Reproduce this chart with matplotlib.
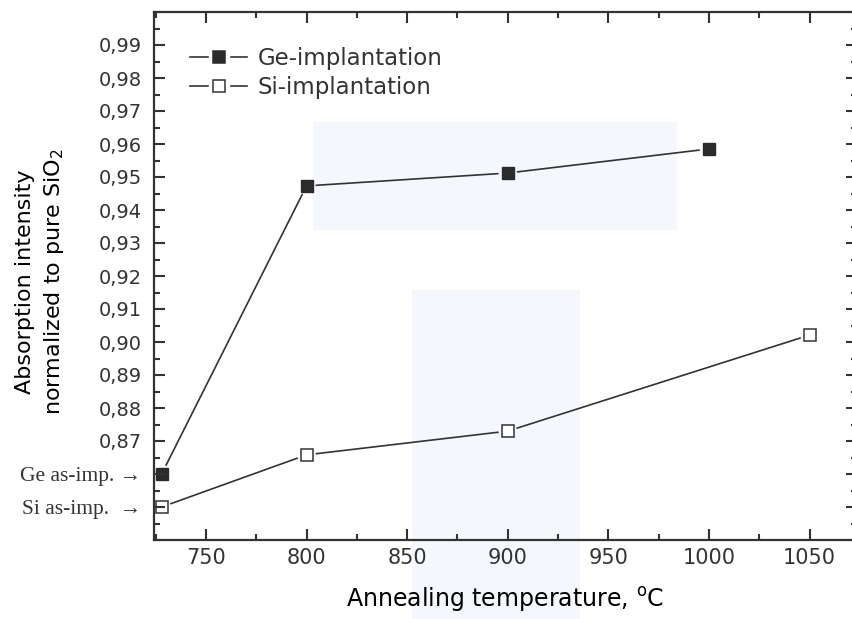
import numpy as np
import matplotlib
matplotlib.use('Agg')
import matplotlib.pyplot as plt
from matplotlib.lines import Line2D
from matplotlib.patches import Rectangle
from matplotlib.legend_handler import HandlerTuple
from matplotlib.ticker import MultipleLocator

# absorption intensity vs annealing temperature (first point = as-implanted)
ge_temp = [728, 800, 900, 1000]
ge_abs = [0.860, 0.9473, 0.9512, 0.9585]
si_temp = [728, 800, 900, 1050]
si_abs = [0.850, 0.8658, 0.873, 0.9021]

x_ticks = [750, 800, 850, 900, 950, 1000, 1050]
y_ticks = [0.85, 0.86, 0.87, 0.88, 0.89, 0.90, 0.91, 0.92, 0.93, 0.94,
           0.95, 0.96, 0.97, 0.98, 0.99]
y_labels = ['Si as-imp.  \u2192', 'Ge as-imp. \u2192', '0,87', '0,88', '0,89',
            '0,90', '0,91', '0,92', '0,93', '0,94', '0,95', '0,96', '0,97',
            '0,98', '0,99']

ink = '#333333'
plt.rcParams['font.family'] = 'DejaVu Sans'
plt.rcParams['text.color'] = ink

W, H = 852, 619
fig = plt.figure(figsize=(W / 100, H / 100), dpi=100)

# faint blue patches in the background
for (x0, y0, x1, y1) in [(313, 122, 677, 230), (412, 290, 580, 619)]:
    fig.patches.append(Rectangle((x0 / W, 1 - y1 / H), (x1 - x0) / W, (y1 - y0) / H,
                                 transform=fig.transFigure, color='#f4f7fc',
                                 zorder=-5, lw=0))

ax = fig.add_axes([154 / W, 1 - 540 / H, (857 - 154) / W, (540 - 12) / H])
ax.set_facecolor('none')
ax.set_xlim(724.2, 1073.6)
ax.set_ylim(0.84, 1.0)


def gapped_line(ax, xs, ys, gap=10, **kw):
    # connect the points but stop short of each symbol
    pts = ax.transData.transform(np.column_stack([xs, ys]))
    inv = ax.transData.inverted()
    for p0, p1 in zip(pts[:-1], pts[1:]):
        u = (p1 - p0) / np.hypot(*(p1 - p0))
        a = inv.transform(p0 + u * gap)
        b = inv.transform(p1 - u * gap)
        ax.plot([a[0], b[0]], [a[1], b[1]], **kw)


gapped_line(ax, ge_temp, ge_abs, color=ink, lw=1.2)
gapped_line(ax, si_temp, si_abs, color=ink, lw=1.2)
ax.plot(ge_temp, ge_abs, ls='none', marker='s', ms=8.5, mfc='#2b2b2b', mec='#2b2b2b')
ax.plot(si_temp, si_abs, ls='none', marker='s', ms=8.0, mfc='white', mec=ink, mew=1.1)

for s in ax.spines.values():
    s.set_linewidth(1.6)
    s.set_color(ink)
ax.set_axisbelow(False)

ax.set_xticks(x_ticks)
ax.xaxis.set_minor_locator(MultipleLocator(25))
ax.set_yticks(y_ticks, y_labels)
ax.yaxis.set_minor_locator(MultipleLocator(0.005))
ax.tick_params(which='both', direction='in', top=True, right=True, color=ink, width=1.5)
ax.tick_params(which='major', length=8)
ax.tick_params(which='minor', length=4.5)
ax.tick_params(axis='x', labelsize=15, pad=6, labelcolor=ink)
ax.tick_params(axis='y', labelsize=14, pad=9, labelcolor=ink)
for lab in ax.get_yticklabels()[:2]:
    lab.set_family(['Liberation Serif', 'DejaVu Serif'])
    lab.set_fontsize(15.5)

ax.set_xlabel('Annealing temperature, $\\mathregular{^oC}$', fontsize=17, labelpad=12)
ax.set_ylabel('Absorption intensity\nnormalized to pure SiO$_\\mathregular{2}$',
              fontsize=16, linespacing=1.4)
ax.yaxis.set_label_coords(-0.125, 0.49)

# legend: line - symbol - line with a gap round the symbol
def entry(fill):
    line = Line2D([], [], color=ink, lw=1.2)
    halo = Line2D([], [], ls='none', marker='s', ms=15, mfc='white', mec='white')
    mark = Line2D([], [], ls='none', marker='s', ms=8.0,
                  mfc=fill, mec='#2b2b2b' if fill != 'white' else ink, mew=1.1)
    return (line, halo, mark)


ax.legend([entry('#2b2b2b'), entry('white')], ['Ge-implantation', 'Si-implantation'],
          handler_map={tuple: HandlerTuple(ndivide=1)},
          loc='upper left', bbox_to_anchor=(190 / W, 1 - 47 / H),
          bbox_transform=fig.transFigure, frameon=False, fontsize=16.5,
          handlelength=2.5, handletextpad=0.45, labelspacing=0.28,
          borderpad=0, borderaxespad=0, numpoints=1)

fig.savefig('out.png', dpi=100)
